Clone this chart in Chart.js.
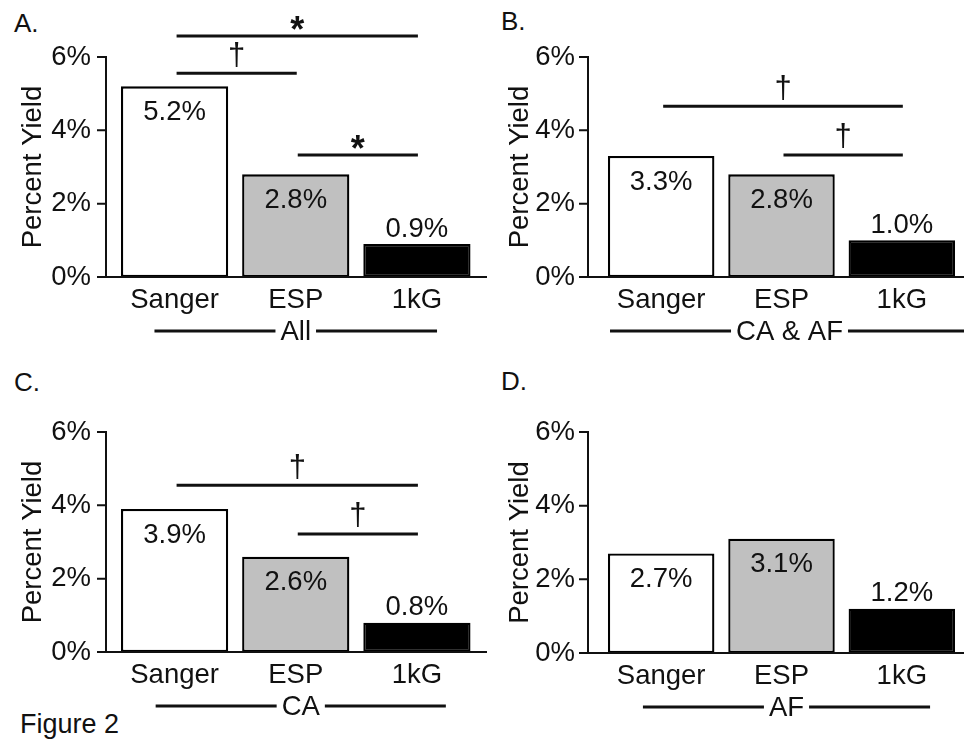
<!DOCTYPE html>
<html><head><meta charset="utf-8">
<script src="https://cdn.jsdelivr.net/npm/chart.js@4"></script>
<style>
html,body{margin:0;padding:0;background:#fff;}
body{width:964px;height:741px;overflow:hidden;position:relative;font-family:"Liberation Sans",Arial,Helvetica,sans-serif;color:#111;}
canvas{position:absolute;}
.lbl{position:absolute;font-size:26px;line-height:26px;white-space:nowrap;}
</style></head><body>
<div class="lbl" style="left:14px;top:10px">A.</div>
<div class="lbl" style="left:501px;top:8px">B.</div>
<div class="lbl" style="left:14px;top:369px">C.</div>
<div class="lbl" style="left:501px;top:368px">D.</div>
<div class="lbl" style="left:20px;top:711px;font-size:27px">Figure 2</div>
<canvas id="cA"></canvas>
<canvas id="cB"></canvas>
<canvas id="cC"></canvas>
<canvas id="cD"></canvas>
<script>
// ---- data ----
const categories = ['Sanger', 'ESP', '1kG'];
const yTickValues = [0, 2, 4, 6];
const valuesAll = [5.2, 2.8, 0.9];
const valuesCAAF = [3.3, 2.8, 1.0];
const valuesCA = [3.9, 2.6, 0.8];
const valuesAF = [2.7, 3.1, 1.2];
const groupLabels = ['All', 'CA & AF', 'CA', 'AF'];
const compAll = [
  {from: 0, to: 2, level: 6.57, symbol: '*'},
  {from: 0, to: 1, level: 5.56, symbol: '\u2020'},
  {from: 1, to: 2, level: 3.33, symbol: '*'}
];
const compCAAF = [
  {from: 0, to: 2, level: 4.66, symbol: '\u2020'},
  {from: 1, to: 2, level: 3.33, symbol: '\u2020'}
];
const compCA = [
  {from: 0, to: 2, level: 4.55, symbol: '\u2020'},
  {from: 1, to: 2, level: 3.22, symbol: '\u2020'}
];
const compAF = [];

// ---- style ----
const INK = '#111111';
const barColors = ['#ffffff', '#c0c0c0', '#000000'];
const FONT = "'Liberation Sans', Arial, Helvetica, sans-serif";
const FS = 27.5;

const panels = [
  {id:'cA', values:valuesAll, comps:compAll, group:groupLabels[0],
   g:{left:0, top:0, w:490, h:370, yTop:57, yBot:277, axisX:106, plotLeft:114, plotRight:477.5, xEnd:487, tickRight:91, titleX:33, groupOff:0}},
  {id:'cB', values:valuesCAAF, comps:compCAAF, group:groupLabels[1],
   g:{left:482, top:0, w:482, h:370, yTop:57, yBot:277, axisX:106, plotLeft:119, plotRight:480, xEnd:482, tickRight:93, titleX:38, groupOff:8}},
  {id:'cC', values:valuesCA, comps:compCA, group:groupLabels[2],
   g:{left:0, top:370, w:490, h:371, yTop:62, yBot:282, axisX:106, plotLeft:114, plotRight:477.5, xEnd:487, tickRight:91, titleX:33, groupOff:5}},
  {id:'cD', values:valuesAF, comps:compAF, group:groupLabels[3],
   g:{left:482, top:370, w:482, h:371, yTop:62, yBot:283, axisX:106, plotLeft:119, plotRight:480, xEnd:482, tickRight:93, titleX:38, groupOff:5}}
];

const decoPlugin = {
  id: 'deco',
  afterDraw(chart, args, opts) {
    const ctx = chart.ctx;
    const g = opts.geom;
    const xs = chart.scales.x, ys = chart.scales.y;
    const y0 = ys.getPixelForValue(yTickValues[0]);
    const yMax = ys.getPixelForValue(yTickValues[yTickValues.length - 1]);
    ctx.save();
    // axes
    ctx.strokeStyle = INK; ctx.lineWidth = 2; ctx.lineCap = 'butt';
    ctx.beginPath();
    ctx.moveTo(g.axisX, yMax - 1); ctx.lineTo(g.axisX, y0 + 1);
    yTickValues.forEach(v => { const y = ys.getPixelForValue(v); ctx.moveTo(g.axisX - 9, y); ctx.lineTo(g.axisX, y); });
    ctx.moveTo(g.axisX - 9, y0); ctx.lineTo(g.xEnd, y0);
    ctx.stroke();
    // value labels
    const meta = chart.getDatasetMeta(0);
    const vals = chart.data.datasets[0].data;
    ctx.font = FS + 'px ' + FONT; ctx.fillStyle = INK; ctx.textAlign = 'center'; ctx.textBaseline = 'middle';
    meta.data.forEach((bar, i) => {
      const dark = barColors[i] === '#000000';
      const y = dark ? bar.y - 15 : bar.y + 26;
      ctx.fillText(vals[i].toFixed(1) + '%', bar.x, y);
    });
    // significance comparisons
    opts.comps.forEach(c => {
      const xa = xs.getPixelForValue(c.from) + 2, xb = xs.getPixelForValue(c.to) + 1;
      const y = ys.getPixelForValue(c.level);
      ctx.lineWidth = 3;
      ctx.beginPath(); ctx.moveTo(xa, y); ctx.lineTo(xb, y); ctx.stroke();
      const star = c.symbol === '*';
      ctx.font = (star ? 'bold 36px ' : '31px ') + FONT;
      ctx.textBaseline = 'alphabetic';
      const m = ctx.measureText(c.symbol);
      const lift = star ? 13 : 19;
      const cy = y - lift;
      const base = cy + (m.actualBoundingBoxAscent - m.actualBoundingBoxDescent) / 2;
      ctx.fillText(c.symbol, (xa + xb) / 2, base);
    });
    // group label with side lines
    ctx.font = FS + 'px ' + FONT; ctx.textBaseline = 'middle';
    const cx = (chart.chartArea.left + chart.chartArea.right) / 2 + g.groupOff;
    const gy = y0 + 54;
    const tw = ctx.measureText(opts.group).width;
    ctx.fillText(opts.group, cx, gy + 1);
    ctx.lineWidth = 3;
    ctx.beginPath();
    ctx.moveTo(cx - tw / 2 - 5, gy); ctx.lineTo(cx - tw / 2 - 5 - 121, gy);
    ctx.moveTo(cx + tw / 2 + 5, gy); ctx.lineTo(cx + tw / 2 + 5 + 121, gy);
    ctx.stroke();
    ctx.restore();
  }
};

panels.forEach(p => {
  const g = p.g;
  const cv = document.getElementById(p.id);
  cv.style.left = g.left + 'px'; cv.style.top = g.top + 'px';
  cv.width = g.w; cv.height = g.h;
  cv.style.width = g.w + 'px'; cv.style.height = g.h + 'px';
  new Chart(cv, {
    type: 'bar',
    data: {
      labels: categories,
      datasets: [{
        data: p.values,
        backgroundColor: barColors,
        borderColor: '#000000',
        borderWidth: 2.3,
        borderSkipped: false,
        barPercentage: 0.885,
        categoryPercentage: 1.0
      }]
    },
    options: {
      responsive: false,
      animation: false,
      devicePixelRatio: 1,
      layout: {padding: {left: 0, top: g.yTop, right: g.w - g.plotRight, bottom: 0}},
      plugins: {
        legend: {display: false},
        tooltip: {enabled: false},
        deco: {geom: g, comps: p.comps, group: p.group}
      },
      scales: {
        x: {
          type: 'category',
          offset: true,
          grid: {display: false, drawTicks: false},
          border: {display: false},
          ticks: {color: INK, font: {family: FONT, size: FS}, padding: 7, maxRotation: 0, autoSkip: false},
          afterFit(s) { s.height = g.h - g.yBot; }
        },
        y: {
          min: 0, max: 6,
          afterBuildTicks(s) { s.ticks = yTickValues.map(v => ({value: v})); },
          grid: {display: false, drawTicks: false},
          border: {display: false},
          ticks: {color: INK, font: {family: FONT, size: FS}, padding: g.plotLeft - g.tickRight, callback: v => v + '%'},
          title: {display: true, text: 'Percent Yield', color: INK, font: {family: FONT, size: FS, lineHeight: 1.2}, padding: {top: g.titleX - FS * 0.6, bottom: 0}},
          afterFit(s) { s.width = g.plotLeft; }
        }
      }
    },
    plugins: [decoPlugin]
  });
});
</script>
</body></html>
